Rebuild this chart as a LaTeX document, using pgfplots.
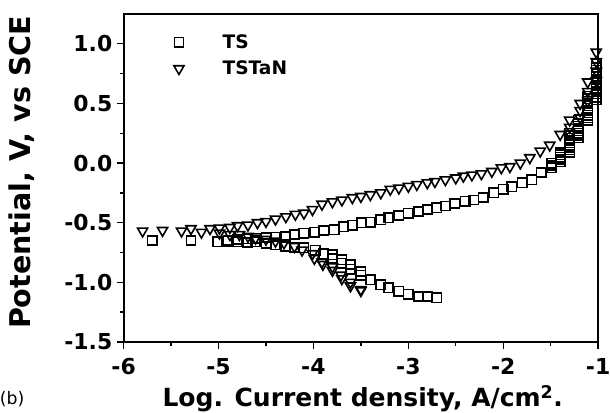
\documentclass[border=0pt]{standalone}
\usepackage{fontspec}
\setmainfont{DejaVu Sans}
\usepackage{pgfplots}
\pgfplotsset{compat=1.18}

\pgfplotstableread{
x y
-5.70 -0.65
-5.29 -0.65
-5.01 -0.66
-4.91 -0.655
-4.80 -0.66
-4.69 -0.665
-4.61 -0.66
-4.90 -0.645
-4.80 -0.64
-4.70 -0.635
-4.60 -0.63
-4.50 -0.625
-4.40 -0.62
-4.29 -0.615
-4.20 -0.60
-4.10 -0.587
-3.99 -0.58
-3.89 -0.565
-3.78 -0.56
-3.68 -0.535
-3.59 -0.52
-3.49 -0.50
-3.40 -0.495
-3.29 -0.475
-3.21 -0.46
-3.10 -0.44
-3.00 -0.42
-2.89 -0.405
-2.80 -0.39
-2.70 -0.375
-2.61 -0.36
-2.51 -0.34
-2.40 -0.32
-2.31 -0.31
-2.21 -0.29
-2.10 -0.25
-2.00 -0.22
-1.91 -0.20
-1.80 -0.165
-1.70 -0.14
-1.60 -0.08
-1.49 0.00
-1.49 -0.02
-1.49 -0.04
-1.40 0.085
-1.40 0.01
-1.40 0.03
-1.40 0.05
-1.40 0.07
-1.30 0.09
-1.30 0.11
-1.30 0.13
-1.30 0.15
-1.30 0.17
-1.30 0.19
-1.30 0.21
-1.30 0.23
-1.30 0.25
-1.21 0.21
-1.21 0.23
-1.21 0.25
-1.21 0.27
-1.21 0.29
-1.21 0.31
-1.21 0.33
-1.21 0.36
-1.11 0.36
-1.11 0.38
-1.11 0.40
-1.11 0.42
-1.11 0.44
-1.11 0.46
-1.11 0.48
-1.11 0.50
-1.11 0.52
-1.11 0.54
-1.11 0.56
-1.02 0.53
-1.02 0.55
-1.02 0.58
-1.02 0.60
-1.02 0.63
-1.02 0.65
-1.02 0.68
-1.02 0.70
-1.02 0.73
-1.02 0.75
-1.02 0.78
-1.02 0.80
-1.02 0.83
-4.50 -0.675
-4.40 -0.685
-4.29 -0.70
-4.20 -0.705
-4.10 -0.71
-3.98 -0.73
-3.89 -0.76
-3.80 -0.77
-3.80 -0.80
-3.70 -0.81
-3.70 -0.84
-3.61 -0.85
-3.61 -0.89
-3.50 -0.91
-3.50 -0.94
-3.40 -0.98
-3.29 -1.02
-3.21 -1.045
-3.10 -1.075
-3.00 -1.10
-2.89 -1.12
-2.80 -1.12
-2.70 -1.13
}\tsdata

\pgfplotstableread{
x y
-5.80 -0.57
-5.59 -0.565
-5.39 -0.57
-5.29 -0.55
-5.18 -0.58
-5.09 -0.55
-4.99 -0.545
-4.88 -0.54
-4.80 -0.525
-4.69 -0.52
-4.59 -0.50
-4.50 -0.49
-4.40 -0.47
-4.29 -0.45
-4.19 -0.43
-4.10 -0.42
-4.01 -0.39
-3.91 -0.345
-3.80 -0.325
-3.70 -0.31
-3.59 -0.29
-3.50 -0.28
-3.40 -0.265
-3.29 -0.25
-3.19 -0.22
-3.10 -0.21
-3.00 -0.195
-2.91 -0.18
-2.80 -0.165
-2.72 -0.155
-2.61 -0.14
-2.50 -0.125
-2.42 -0.11
-2.33 -0.10
-2.23 -0.09
-2.12 -0.07
-2.02 -0.04
-1.93 -0.03
-1.82 0.00
-1.72 0.045
-1.61 0.10
-1.51 0.15
-1.40 0.24
-1.30 0.36
-1.30 0.30
-1.30 0.25
-1.19 0.50
-1.19 0.44
-1.19 0.38
-1.11 0.68
-1.11 0.60
-1.11 0.52
-1.02 0.93
-1.02 0.85
-1.02 0.77
-1.02 0.69
-4.99 -0.587
-4.88 -0.60
-4.78 -0.60
-4.69 -0.615
-4.61 -0.63
-4.50 -0.64
-4.40 -0.655
-4.31 -0.67
-4.20 -0.70
-4.12 -0.73
-4.01 -0.76
-3.99 -0.80
-3.91 -0.83
-3.90 -0.85
-3.80 -0.87
-3.80 -0.90
-3.71 -0.94
-3.70 -0.97
-3.61 -1.00
-3.61 -1.03
-3.50 -1.06
-3.50 -1.07
}\tstandata

\begin{document}
\begin{tikzpicture}
\begin{axis}[
  scale only axis,
  width=357pt, height=246.75pt,
  xmin=-6, xmax=-1, ymin=-1.5, ymax=1.25,
  xtick={-6,-5,-4,-3,-2,-1},
  ytick={-1.5,-1,-0.5,0,0.5,1},
  minor xtick={-5.5,-4.5,-3.5,-2.5,-1.5},
  minor ytick={-1.25,-0.75,-0.25,0.25,0.75},
  axis line style={line width=1.5pt},
  tick style={line width=1pt, black},
  major tick length=5pt, minor tick length=3pt,
  tick align=outside, xtick pos=bottom, ytick pos=left,
  /pgf/number format/assume math mode=true,
  ticklabel style={font=\fontsize{16.5}{18}\selectfont\bfseries},
  yticklabel style={/pgf/number format/.cd, fixed, fixed zerofill, precision=1},
  xticklabel style={yshift=-4pt},
  xlabel={Log. Current density, A/cm\textsuperscript{2}.},
  ylabel={Potential, V, vs SCE},
  xlabel style={font=\fontsize{18.8}{22}\selectfont\bfseries, at={(axis description cs:0.504,-0.1976)}, anchor=base},
  ylabel style={font=\fontsize{21.5}{24}\selectfont\bfseries, at={(axis description cs:-0.214,0.517)}, anchor=center, rotate=0},
  legend style={draw=none, fill=none, at={(0.097,0.955)}, anchor=north west,
    font=\fontsize{14}{16}\selectfont\bfseries, row sep=4pt,
    /tikz/every odd column/.append style={column sep=27pt}},
  legend cell align=left,
]
\addplot[only marks, mark=square, mark size=3.5pt, mark options={line width=1.2pt, black}] table {\tsdata};
\addlegendentry{TS}
\addplot[only marks, mark=triangle, mark size=4.4pt, mark options={rotate=180, line width=1.2pt, black}] table {\tstandata};
\addlegendentry{TSTaN}
\coordinate (bbsw) at (rel axis cs:-0.2605,-0.2158);
\coordinate (bbne) at (rel axis cs:1.025,1.0426);
\coordinate (blabel) at (rel axis cs:-0.235,-0.175);
\end{axis}
\node[font=\fontsize{13}{15}\selectfont] at (blabel) {(b)};
\pgfresetboundingbox
\path[use as bounding box] (bbsw) rectangle (bbne);
\end{tikzpicture}
\end{document}
